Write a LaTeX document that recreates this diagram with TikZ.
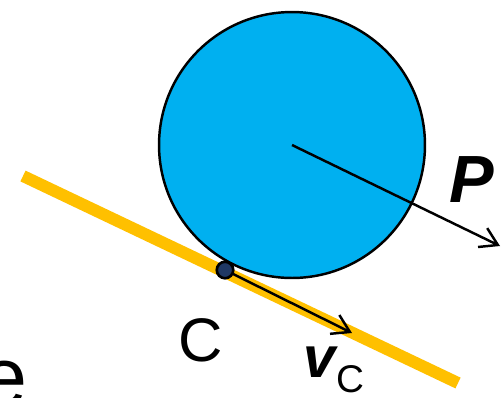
\documentclass[tikz,border=0pt]{standalone}
\usepackage{fontspec}
\setmainfont{Liberation Sans}
\usetikzlibrary{arrows.meta}
\definecolor{SkyCyan}{HTML}{00B0F0}
\definecolor{Amber}{HTML}{FFC000}
\definecolor{DotNavy}{HTML}{1F3864}

\begin{document}
\begin{tikzpicture}[
    x=0.02cm, y=-0.02cm,
    vec/.style={-{Straight Barb[length=0.34cm, width=0.42cm]}, line width=1.4pt},
    lab/.style={font=\fontsize{35}{40}\selectfont, inner sep=0pt}
  ]
    \useasboundingbox (0,0) rectangle (503,397);

    % Incline
    \coordinate (rampA) at (23,176);
    \coordinate (rampB) at (458,383);
    \draw[Amber, line width=6.8pt] (rampA) -- (rampB);

    % Wheel
    \node[circle, draw, fill=SkyCyan, line width=1.4pt,
          minimum size=5.32cm, inner sep=0pt] (wheel) at (292,145) {};

    % Vectors
    \coordinate (cpt)  at (225,270);
    \coordinate (tipP) at (500,246);
    \coordinate (tipV) at (352,333);
    \draw[vec] (wheel.center) -- (tipP);
    \draw[vec] (cpt) -- (tipV);

    % Contact point
    \node[circle, draw, fill=DotNavy, line width=1.5pt,
          minimum size=0.33cm, inner sep=0pt] (contact) at (cpt) {};

    % Labels
    \node[lab, font=\fontsize{38}{44}\selectfont, anchor=base west] (Plab) at (449,202) {\textbf{\textit{P}}};
    \node[lab, anchor=base west] (Clab) at (178,361) {C};
    \node[lab, font=\fontsize{33}{38}\selectfont, anchor=base west] (vlab) at (303,377)
      {\textbf{\textit{v}}\kern-1pt\raisebox{-9pt}{\fontsize{22}{26}\selectfont C}};
    \node[lab, font=\fontsize{47}{52}\selectfont, anchor=base west] (elab) at (-19,405) {e};
\end{tikzpicture}
\end{document}
